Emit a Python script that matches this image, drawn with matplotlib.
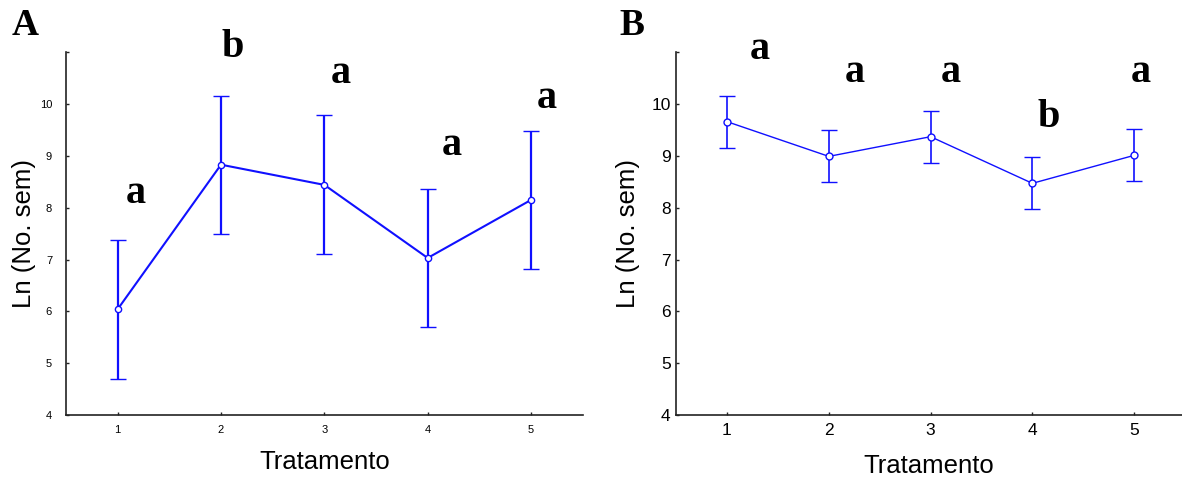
import matplotlib
matplotlib.use("Agg")
import matplotlib.pyplot as plt

treat = [1, 2, 3, 4, 5]
a_mean = [6.04, 8.83, 8.44, 7.03, 8.15]
a_err = [1.34, 1.33, 1.34, 1.33, 1.33]
a_letters = ["a", "b", "a", "a", "a"]
a_let_x = [1.18, 2.11, 3.16, 4.23, 5.15]
a_let_y = [8.28, 11.1, 10.59, 9.2, 10.1]

b_mean = [9.66, 8.99, 9.37, 8.47, 9.01]
b_err = [0.50, 0.50, 0.50, 0.50, 0.50]
b_letters = ["a", "a", "a", "b", "a"]
b_let_x = [1.32, 2.26, 3.20, 4.16, 5.07]
b_let_y = [11.06, 10.6, 10.6, 9.74, 10.6]

yticks = [4, 5, 6, 7, 8, 9, 10, 11]
ylabels = ["4", "5", "6", "7", "8", "9", "10", ""]

fig = plt.figure(figsize=(11.82, 4.79), dpi=100)
blue = "#1010ff"

def setup(ax, tick_fs, xpad, ypad):
    ax.set_xlim(0.5, 5.5)
    ax.set_ylim(4, 11)
    ax.spines["top"].set_visible(False)
    ax.spines["right"].set_visible(False)
    for s in ("left", "bottom"):
        ax.spines[s].set_linewidth(1.2)
        ax.spines[s].set_color("#222222")
    ax.set_xticks(treat)
    ax.set_yticks(yticks)
    ax.set_yticklabels(ylabels)
    ax.tick_params(labelsize=tick_fs, length=2.5, width=1, direction="in", color="#222222")
    ax.tick_params(axis="x", pad=xpad)
    ax.tick_params(axis="y", pad=ypad)
    for lab in ax.get_xticklabels() + ax.get_yticklabels():
        lab.set_family("Liberation Sans")
    ax.set_xlabel("Tratamento", fontsize=18.5, family="Liberation Sans", labelpad=11)
    ax.set_ylabel("Ln (No. sem)", fontsize=18.5, family="Liberation Sans")

axA = fig.add_axes([0.0558, 0.1336, 0.4372, 0.7574])
axA.errorbar(treat, a_mean, yerr=a_err, color=blue, lw=1.5, elinewidth=1.6,
             capsize=6, capthick=1.6, marker="o", ms=4.5, mfc="white", mec=blue, mew=1.0)
setup(axA, 8, 7, 10)
axA.yaxis.set_label_coords(-0.058, 0.5)
for x, y, t in zip(a_let_x, a_let_y, a_letters):
    axA.text(x, y, t, fontsize=29, fontweight="bold", family="Liberation Serif",
             ha="center", va="center", clip_on=False)
fig.text(0.010, 0.927, "A", fontsize=27, fontweight="bold", family="Liberation Serif",
         ha="left", va="baseline")

axB = fig.add_axes([0.572, 0.1336, 0.428, 0.7574])
axB.errorbar(treat, b_mean, yerr=b_err, color=blue, lw=1.0, elinewidth=1.2,
             capsize=6, capthick=1.2, marker="o", ms=5, mfc="white", mec=blue, mew=1.0)
setup(axB, 12.5, 6, 4)
axB.set_xlim(0.5, 5.47)
axB.yaxis.labelpad = 8
for x, y, t in zip(b_let_x, b_let_y, b_letters):
    axB.text(x, y, t, fontsize=29, fontweight="bold", family="Liberation Serif",
             ha="center", va="center", clip_on=False)
fig.text(0.524, 0.927, "B", fontsize=27, fontweight="bold", family="Liberation Serif",
         ha="left", va="baseline")

fig.savefig("out.png", dpi=100)
